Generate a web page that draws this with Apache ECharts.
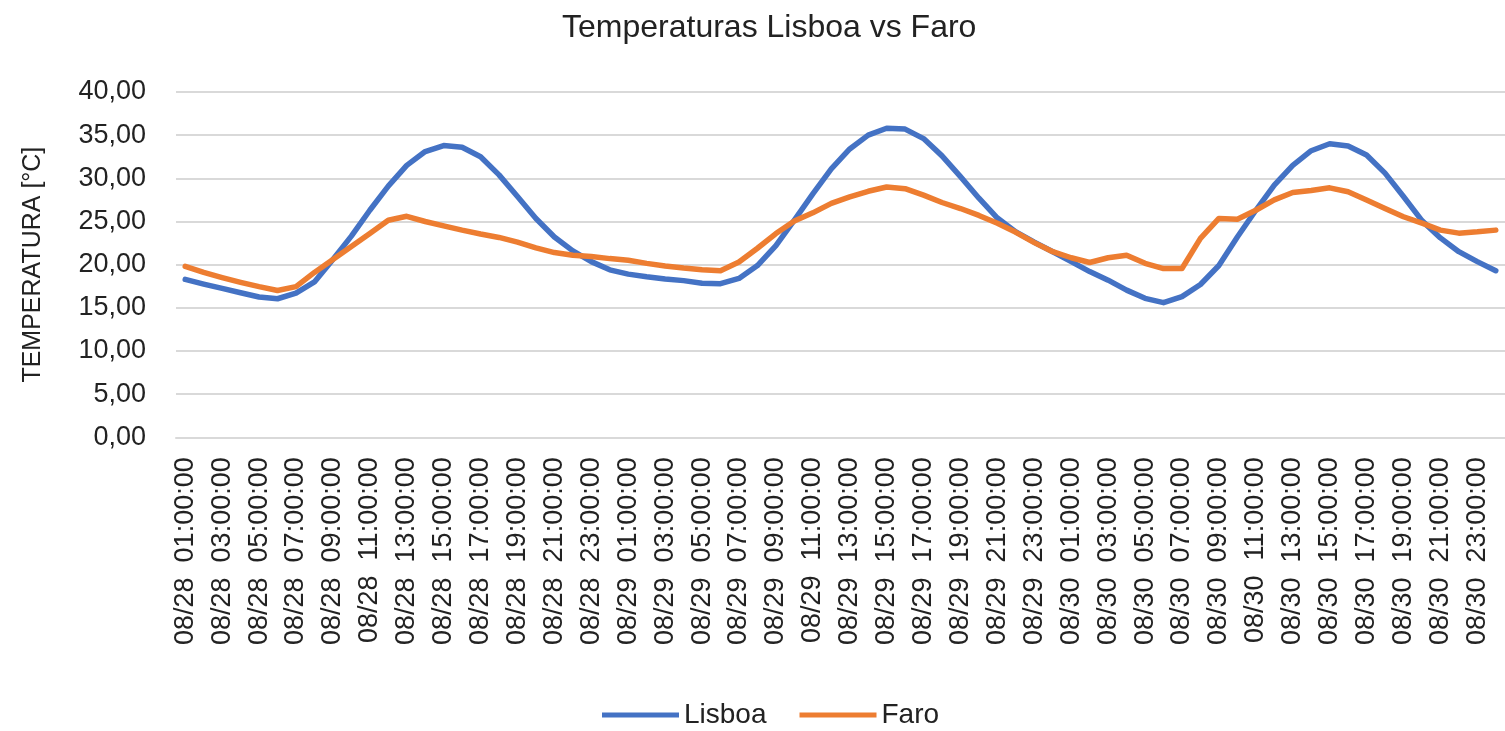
<!DOCTYPE html>
<html>
<head>
<meta charset="utf-8">
<script src="https://cdn.jsdelivr.net/npm/echarts@6/dist/echarts.min.js"></script>
<style>
html,body{margin:0;padding:0;background:#fff;}
#chart{width:1505px;height:731px;}
</style>
</head>
<body>
<div id="chart"></div>
<script>
// ---- data ----
const days = ['08/28', '08/29', '08/30', '08/31'];
const hours = ['00','01','02','03','04','05','06','07','08','09','10','11','12','13','14','15','16','17','18','19','20','21','22','23'];
const categories = [];
for (let k = 1; k <= 72; k++) {
  categories.push(days[Math.floor(k / 24)] + '  ' + hours[k % 24] + ':00:00');
}
const lisboa = [
  18.3, 17.75, 17.25, 16.75, 16.25, 16.05, 16.7, 18.0, 20.6, 23.3, 26.3, 29.1,
  31.5, 33.1, 33.8, 33.6, 32.5, 30.4, 27.9, 25.35, 23.2, 21.6, 20.35, 19.4,
  18.9, 18.6, 18.35, 18.15, 17.85, 17.8, 18.4, 19.9, 22.2, 25.15, 28.2, 31.1,
  33.4, 35.0, 35.8, 35.7, 34.6, 32.6, 30.2, 27.7, 25.4, 23.8, 22.6, 21.5,
  20.35, 19.2, 18.2, 17.05, 16.1, 15.6, 16.3, 17.7, 19.9, 23.2, 26.3, 29.2,
  31.5, 33.2, 34.0, 33.75, 32.7, 30.6, 27.9, 25.1, 23.1, 21.5, 20.35, 19.3
];
const faro = [
  19.8, 19.1, 18.5, 17.95, 17.45, 17.0, 17.45, 19.1, 20.6, 22.1, 23.6, 25.15,
  25.6, 25.0, 24.5, 24.0, 23.55, 23.15, 22.6, 21.95, 21.4, 21.1, 20.95, 20.7,
  20.5, 20.15, 19.85, 19.6, 19.4, 19.3, 20.3, 21.9, 23.6, 25.05, 26.0, 27.1,
  27.85, 28.5, 29.0, 28.8, 28.05, 27.2, 26.5, 25.7, 24.8, 23.75, 22.55, 21.5,
  20.8, 20.25, 20.8, 21.1, 20.15, 19.55, 19.55, 23.05, 25.35, 25.25, 26.3, 27.5,
  28.35, 28.6, 28.9, 28.45, 27.5, 26.5, 25.55, 24.8, 24.0, 23.65, 23.8, 24.0
];
const seriesNames = ['Lisboa', 'Faro'];
const titleText = 'Temperaturas Lisboa vs Faro';
const yAxisName = 'TEMPERATURA [°C]';

// ---- chart ----
const FONT = 'Liberation Sans';
const chart = echarts.init(document.getElementById('chart'), null, {renderer: 'canvas'});
chart.setOption({
  animation: false,
  backgroundColor: '#ffffff',
  title: {
    text: titleText,
    left: 557,
    top: 7,
    textStyle: {fontFamily: FONT, fontSize: 32, fontWeight: 'normal', color: '#222'}
  },
  legend: {
    data: seriesNames,
    left: 597,
    top: 696,
    icon: 'rect',
    itemWidth: 77,
    itemHeight: 5,
    itemGap: 33,
    textStyle: {fontFamily: FONT, fontSize: 28, color: '#222', padding: [0, 0, 0, 0]}
  },
  grid: {left: 176, right: -7, top: 92, bottom: 293.7, containLabel: false},
  xAxis: {
    type: 'category',
    data: categories,
    boundaryGap: true,
    axisTick: {show: false},
    axisLine: {show: true, lineStyle: {color: '#D9D9D9', width: 2}},
    axisLabel: {
      rotate: 90,
      interval: 1,
      margin: 20,
      fontFamily: FONT,
      fontSize: 27,
      color: '#222'
    },
    splitLine: {show: false}
  },
  yAxis: {
    type: 'value',
    min: 0,
    max: 40,
    interval: 5,
    name: yAxisName,
    nameLocation: 'middle',
    nameGap: 130,
    nameRotate: 90,
    nameTextStyle: {fontFamily: FONT, fontSize: 25, color: '#222'},
    axisLine: {show: false},
    axisTick: {show: false},
    axisLabel: {
      margin: 30,
      fontFamily: FONT,
      fontSize: 27,
      color: '#222',
      formatter: v => v.toFixed(2).replace('.', ',')
    },
    splitLine: {lineStyle: {color: '#D9D9D9', width: 2}}
  },
  series: [
    {
      name: seriesNames[0],
      type: 'line',
      data: lisboa,
      symbol: 'none',
      color: '#4472C4',
      lineStyle: {width: 5.5, cap: 'round', join: 'round', color: '#4472C4'}
    },
    {
      name: seriesNames[1],
      type: 'line',
      data: faro,
      symbol: 'none',
      color: '#ED7D31',
      lineStyle: {width: 5.5, cap: 'round', join: 'round', color: '#ED7D31'}
    }
  ]
});
</script>
</body>
</html>
